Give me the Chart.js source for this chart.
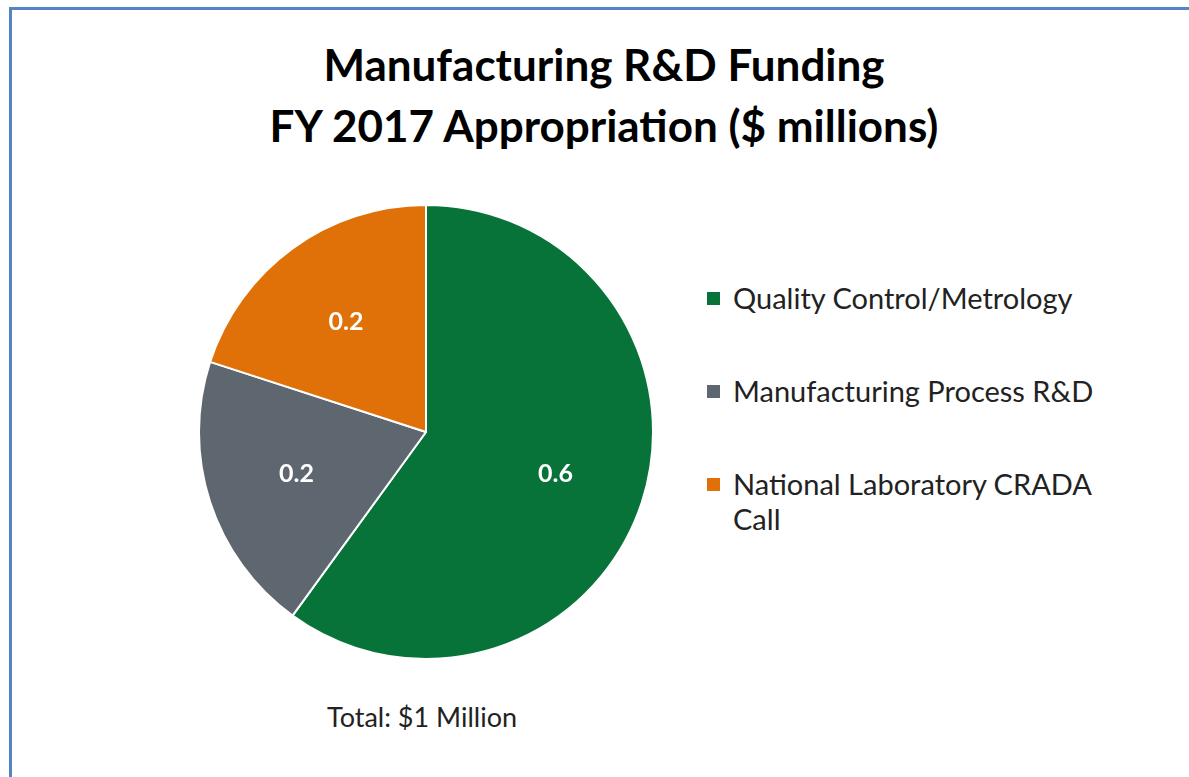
<!DOCTYPE html>
<html>
<head>
<meta charset="utf-8">
<script src="https://cdn.jsdelivr.net/npm/chart.js@4.4.1/dist/chart.umd.min.js"></script>
<style>
  html, body { margin: 0; padding: 0; background: #fff; }
  #page { position: relative; width: 1189px; height: 777px; overflow: hidden; font-family: Lato, "Open Sans", sans-serif; }
  #frame { position: absolute; left: 9px; top: 7px; width: 1300px; height: 900px; border-left: 3px solid #5584c4; border-top: 3px solid #5584c4; }
  #title { position: absolute; left: 0; top: 34px; width: 1208px; text-align: center; font-weight: bold; font-size: 44px; line-height: 61px; color: #000; }
  #pieBox { position: absolute; left: 190px; top: 196px; width: 472px; height: 472px; }
  #legend { position: absolute; left: 707px; top: 280px; font-size: 29px; color: #222; }
  .item { position: relative; padding-left: 26px; margin-bottom: 58px; line-height: 35px; width: 380px; }
  .item .box { position: absolute; left: 0; top: 12px; width: 13px; height: 13px; }
  #total { position: absolute; left: 272px; top: 700px; width: 300px; text-align: center; font-size: 27px; color: #222; }
</style>
</head>
<body>
<div id="page">
  <div id="frame"></div>
  <div id="title">Manufacturing R&amp;D Funding<br>FY 2017 Appropriation ($ millions)</div>
  <div id="pieBox"><canvas id="PieChart"></canvas></div>
  <div id="legend"></div>
  <div id="total">Total: $1 Million</div>
</div>
<script>
const categories = [
    'Quality Control/Metrology',
    'Manufacturing Process R&D',
    'National Laboratory CRADA Call'
];

const values = [0.6, 0.2, 0.2];

const colors = ['#087339', '#5e6770', '#e07109'];

// legend built from the same arrays
const legend = document.getElementById('legend');
categories.forEach(function (name, i) {
    const item = document.createElement('div');
    item.className = 'item';
    const box = document.createElement('span');
    box.className = 'box';
    box.style.background = colors[i];
    item.appendChild(box);
    item.appendChild(document.createTextNode(name));
    legend.appendChild(item);
});

const sliceLabels = {
    id: 'sliceLabels',
    afterDatasetsDraw(chart) {
        const ctx = chart.ctx;
        const meta = chart.getDatasetMeta(0);
        ctx.save();
        ctx.fillStyle = '#fff';
        ctx.font = 'bold 25px Lato, "Open Sans", sans-serif';
        ctx.textAlign = 'center';
        ctx.textBaseline = 'middle';
        meta.data.forEach(function (arc, i) {
            const p = arc.getProps(['x', 'y', 'startAngle', 'endAngle', 'outerRadius'], true);
            const mid = (p.startAngle + p.endAngle) / 2;
            const r = p.outerRadius * 0.6;
            ctx.fillText(values[i].toFixed(1), p.x + Math.cos(mid) * r, p.y + Math.sin(mid) * r);
        });
        ctx.restore();
    }
};

const pie_data = {
    labels: categories,
    datasets: [{
        data: values,
        backgroundColor: colors,
        borderColor: '#ffffff',
        borderWidth: 2
    }]
};

const configPie = {
    type: 'pie',
    data: pie_data,
    options: {
        responsive: true,
        maintainAspectRatio: false,
        animation: false,
        layout: { padding: 8 },
        plugins: {
            legend: { display: false },
            tooltip: { enabled: false }
        }
    },
    plugins: [sliceLabels]
};

const PieChart = new Chart(
    document.getElementById('PieChart'),
    configPie
);
</script>
</body>
</html>
